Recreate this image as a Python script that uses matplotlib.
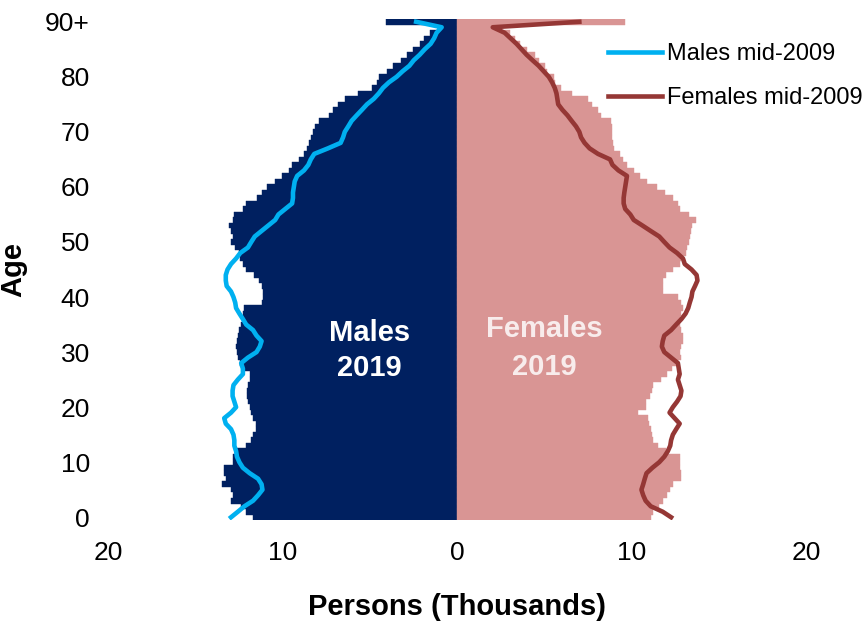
import matplotlib.pyplot as plt
import numpy as np

plt.rcParams['font.family'] = ['Liberation Sans', 'DejaVu Sans']

# single years of age 0..89 plus 90+
ages = np.arange(0, 91)

# persons (thousands)
males_2019 = [11.69, 12.08, 12.37, 12.95, 12.81, 12.95, 13.44, 13.25, 13.34, 13.34,
              12.81, 12.81, 12.61, 12.08, 11.79, 11.69, 11.49, 11.49, 11.69, 11.79,
              11.88, 11.98, 12.03, 12.03, 11.98, 11.88, 11.88, 12.27, 12.42, 12.56,
              12.61, 12.66, 12.61, 12.56, 12.47, 12.37, 12.27, 12.27, 12.18, 11.15,
              11.10, 11.10, 11.20, 11.35, 11.64, 12.08, 12.27, 12.42, 12.47, 12.71,
              12.95, 12.86, 12.95, 13.05, 12.86, 12.76, 12.27, 12.08, 11.44, 11.20,
              10.91, 10.42, 10.03, 9.64, 9.45, 9.06, 8.77, 8.62, 8.47, 8.38,
              8.28, 8.13, 7.89, 7.31, 7.11, 6.82, 6.43, 5.65, 4.87, 4.58,
              4.48, 3.99, 3.65, 3.21, 2.87, 2.53, 2.14, 1.90, 1.56, 1.07,
              4.09]

females_2019 = [11.10, 11.25, 11.59, 11.79, 12.03, 12.22, 12.37, 12.86, 12.81, 12.76,
                12.76, 12.76, 11.98, 11.54, 11.25, 11.15, 11.10, 11.01, 10.96, 10.37,
                10.81, 10.81, 11.05, 11.20, 11.25, 11.69, 12.03, 12.32, 12.66, 12.81,
                12.76, 12.81, 12.95, 12.95, 12.81, 12.76, 12.76, 12.86, 12.95, 12.86,
                12.66, 11.83, 11.79, 11.79, 11.98, 12.37, 12.76, 12.86, 13.15, 13.20,
                13.30, 13.34, 13.39, 13.44, 13.68, 13.30, 12.76, 12.66, 12.37, 11.93,
                11.44, 10.86, 10.47, 10.13, 9.74, 9.50, 9.35, 9.01, 8.96, 8.91,
                8.91, 8.86, 8.81, 8.28, 8.08, 7.74, 7.50, 6.57, 5.94, 5.60,
                5.55, 5.16, 5.02, 4.68, 4.48, 3.99, 3.60, 3.31, 3.02, 2.44,
                9.64]

males_2009 = [12.95, 12.56, 12.18, 11.69, 11.40, 11.15, 11.20, 11.40, 11.88, 12.27,
              12.47, 12.61, 12.66, 12.76, 12.76, 12.81, 12.95, 13.25, 13.34, 12.95,
              12.66, 12.76, 12.86, 12.86, 12.81, 12.56, 12.27, 12.27, 12.37, 11.98,
              11.49, 11.30, 11.20, 11.49, 11.69, 12.08, 12.27, 12.47, 12.66, 12.71,
              12.81, 12.95, 13.20, 13.25, 13.25, 13.15, 12.95, 12.66, 12.42, 11.98,
              11.79, 11.59, 11.20, 10.81, 10.42, 10.23, 9.84, 9.45, 9.40, 9.40,
              9.35, 9.30, 9.16, 8.77, 8.52, 8.38, 8.18, 7.40, 6.67, 6.53,
              6.43, 6.23, 6.04, 5.75, 5.45, 5.16, 4.77, 4.48, 4.24, 3.90,
              3.46, 3.12, 2.73, 2.48, 2.14, 1.85, 1.51, 1.31, 1.17, 0.88,
              2.34]

females_2009 = [12.27, 11.79, 11.10, 10.81, 10.67, 10.57, 10.67, 10.76, 10.86, 11.20,
                11.59, 11.88, 12.08, 12.22, 12.27, 12.37, 12.56, 12.76, 12.47, 12.18,
                12.37, 12.61, 12.81, 12.86, 12.76, 12.66, 12.76, 12.71, 12.66, 12.27,
                11.88, 11.74, 11.79, 11.88, 12.27, 12.56, 12.86, 13.10, 13.25, 13.34,
                13.44, 13.49, 13.64, 13.78, 13.73, 13.44, 13.05, 12.95, 12.61, 12.18,
                11.88, 11.59, 11.10, 10.62, 10.13, 9.93, 9.64, 9.55, 9.55, 9.59,
                9.64, 9.69, 9.74, 9.25, 8.91, 8.77, 8.08, 7.60, 7.31, 7.11,
                7.01, 6.82, 6.57, 6.33, 6.04, 5.80, 5.75, 5.70, 5.60, 5.45,
                5.26, 4.97, 4.68, 4.33, 3.99, 3.70, 3.41, 3.07, 2.73, 2.05,
                7.01]

x_ticks = [-20, -10, 0, 10, 20]
x_labels = ['20', '10', '0', '10', '20']
y_ticks = [0, 10, 20, 30, 40, 50, 60, 70, 80, 90]
y_labels = ['0', '10', '20', '30', '40', '50', '60', '70', '80', '90+']

fig = plt.figure(figsize=(8.66, 6.23), dpi=100)
ax = fig.add_axes([108 / 866, 0.1653, 698 / 866, 0.8042])

ax.barh(ages, -np.array(males_2019), height=1.0, color='#002060',
        edgecolor='#002060', linewidth=0.3)
ax.barh(ages, females_2019, height=1.0, color='#d99594',
        edgecolor='#d99594', linewidth=0.3)

ax.plot(-np.array(males_2009), ages, color='#00b0f0', lw=3.3,
        solid_joinstyle='round', label='Males mid-2009')
ax.plot(females_2009, ages, color='#953735', lw=3.3,
        solid_joinstyle='round', label='Females mid-2009')

ax.set_xlim(-20, 20)
ax.set_ylim(-0.5, 90.5)
ax.set_xticks(x_ticks)
ax.set_xticklabels(x_labels)
ax.set_yticks(y_ticks)
ax.set_yticklabels(y_labels)
ax.tick_params(axis='both', length=0, labelsize=19)
ax.tick_params(axis='x', pad=15)
ax.tick_params(axis='y', pad=13)
for s in ax.spines.values():
    s.set_visible(False)

ax.set_xlabel('Persons (Thousands)', fontsize=21, fontweight='bold')
ax.xaxis.set_label_coords(0.5, -0.145)
ax.set_ylabel('Age', fontsize=21, fontweight='bold')
ax.yaxis.set_label_coords(-0.115, 0.5)

ax.text(-5.0, 30.3, 'Males\n2019', color='white', fontsize=21,
        fontweight='bold', ha='center', va='center', linespacing=1.3)
ax.text(5.0, 30.8, 'Females\n2019', color='#f8ecec', fontsize=21,
        fontweight='bold', ha='center', va='center', linespacing=1.45)

fig.legend(loc='upper left', bbox_to_anchor=(0.702, 0.931), frameon=False,
           fontsize=17, handlelength=2.3, handletextpad=0.2,
           labelspacing=0.95, borderpad=0, borderaxespad=0)

plt.savefig('out.png', dpi=100)
